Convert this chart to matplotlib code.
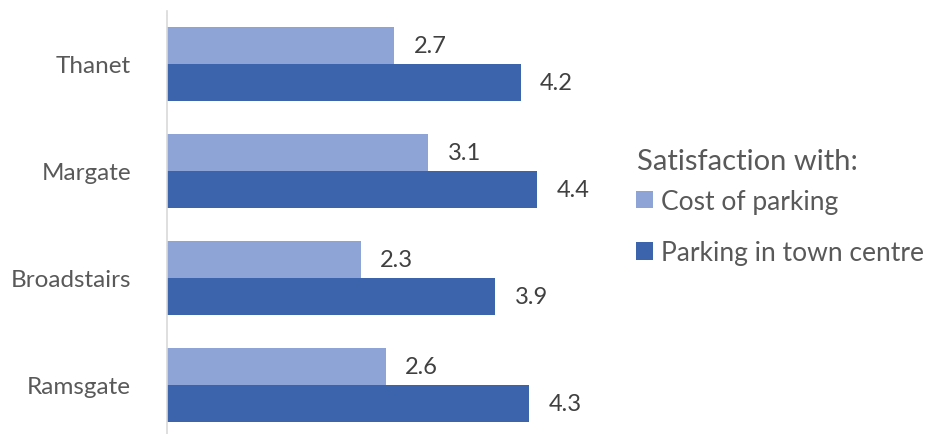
import matplotlib.pyplot as plt
import numpy as np

plt.rcParams['font.family'] = ['Lato', 'DejaVu Sans']

towns = ["Thanet", "Margate", "Broadstairs", "Ramsgate"]
cost_of_parking = [2.7, 3.1, 2.3, 2.6]
parking_town_centre = [4.2, 4.4, 3.9, 4.3]

light = "#8FA4D6"
dark = "#3B64AD"
grey = "#595959"

fig = plt.figure(figsize=(9.3, 4.35), dpi=100)
ax = fig.add_axes([167 / 930, 0, 421 / 930, 423.5 / 435])

y = np.arange(len(towns))
h = 0.35
b1 = ax.barh(y - h / 2, cost_of_parking, height=h, color=light, label="Cost of parking")
b2 = ax.barh(y + h / 2, parking_town_centre, height=h, color=dark, label="Parking in town centre")

ax.bar_label(b1, fmt="%.1f", padding=14, fontsize=17, color="#404040")
ax.bar_label(b2, fmt="%.1f", padding=14, fontsize=17, color="#404040")

ax.set_xlim(0, 5)
ax.set_ylim(3.458, -0.5)
ax.set_yticks(y)
ax.set_yticklabels(towns, fontsize=17.5, color=grey)
ax.tick_params(axis="y", length=0, pad=26)
ax.set_xticks([])
for s in ["top", "right", "bottom"]:
    ax.spines[s].set_visible(False)
ax.spines["left"].set_color("#D9D9D9")
ax.spines["left"].set_linewidth(1.2)

# legend title drawn separately so the spacing can match
fig.text(637 / 930, 1 - 162 / 435, "Satisfaction with:", fontsize=21,
         color=grey, va="center", ha="left")
leg = ax.legend(loc="center left", bbox_to_anchor=(633 / 930, 1 - 228 / 435),
                bbox_transform=fig.transFigure, frameon=False, fontsize=19,
                handlelength=0.65, handleheight=0.65, handletextpad=0.3,
                labelspacing=1.0, borderpad=0.1, borderaxespad=0)
for t in leg.get_texts():
    t.set_color(grey)

fig.savefig("out.png")
